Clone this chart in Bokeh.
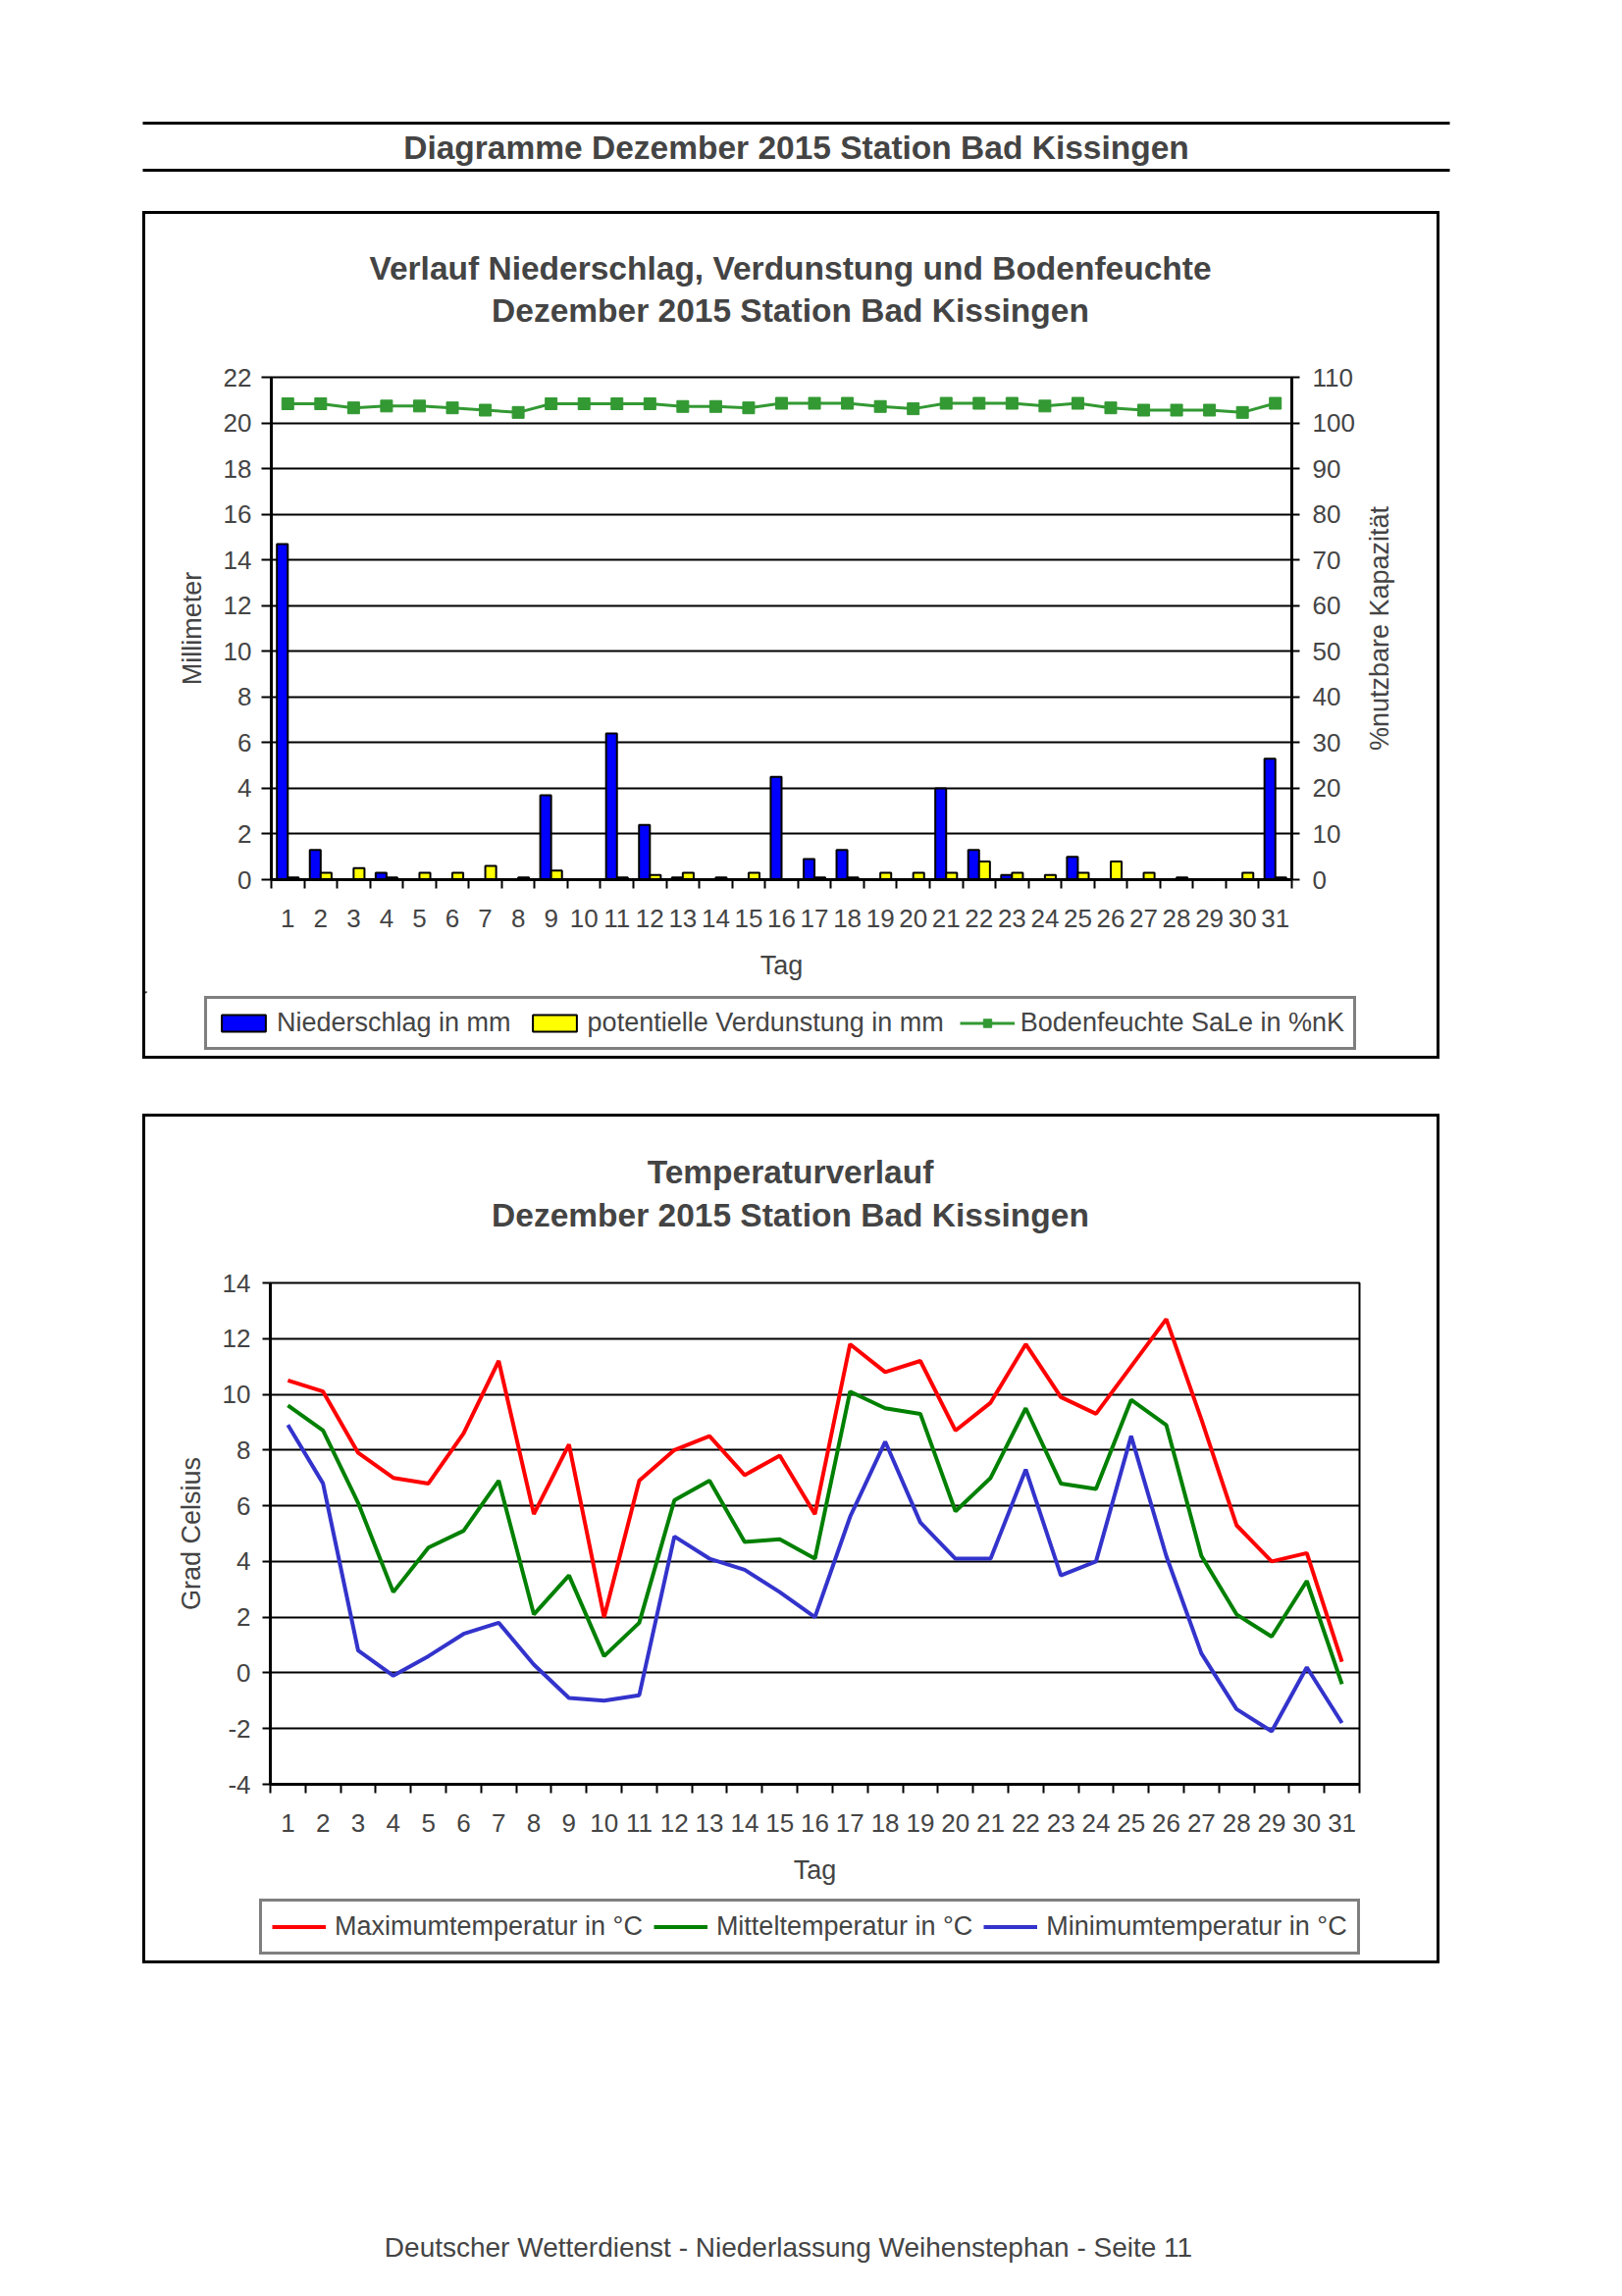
import math
from bokeh.plotting import figure
from bokeh.models import (Range1d, LinearAxis, FixedTicker, Label, Legend, LegendItem,
                          ColumnDataSource)
from bokeh.embed import file_html
from bokeh.resources import INLINE
from bokeh.transform import dodge

# ---------------- data ----------------
days = list(range(1, 32))
niederschlag = [14.7, 1.3, 0, 0.3, 0, 0, 0, 0, 3.7, 0, 6.4, 2.4, 0.1, 0, 0, 4.5,
                0.9, 1.3, 0, 0, 4.0, 1.3, 0.2, 0, 1.0, 0, 0, 0, 0, 0, 5.3]
verdunstung = [0.1, 0.3, 0.5, 0.1, 0.3, 0.3, 0.6, 0.1, 0.4, 0, 0.1, 0.2, 0.3, 0.1, 0.3, 0,
               0.1, 0.1, 0.3, 0.3, 0.3, 0.8, 0.3, 0.2, 0.3, 0.8, 0.3, 0.1, 0, 0.3, 0.1]
bodenfeuchte = [104.2, 104.2, 103.3, 103.7, 103.7, 103.3, 102.8, 102.3, 104.2, 104.2, 104.2,
                104.2, 103.6, 103.6, 103.3, 104.3, 104.3, 104.3, 103.6, 103.1, 104.3, 104.3,
                104.3, 103.7, 104.3, 103.3, 102.8, 102.8, 102.8, 102.3, 104.3]
tmax = [10.5, 10.1, 7.9, 7.0, 6.8, 8.6, 11.2, 5.7, 8.2, 2.0, 6.9, 8.0, 8.5, 7.1, 7.8, 5.7,
        11.8, 10.8, 11.2, 8.7, 9.7, 11.8, 9.9, 9.3, 11.0, 12.7, 9.1, 5.3, 4.0, 4.3, 0.4]
tmit = [9.6, 8.7, 6.1, 2.9, 4.5, 5.1, 6.9, 2.1, 3.5, 0.6, 1.8, 6.2, 6.9, 4.7, 4.8, 4.1,
        10.1, 9.5, 9.3, 5.8, 7.0, 9.5, 6.8, 6.6, 9.8, 8.9, 4.2, 2.1, 1.3, 3.3, -0.4]
tmin = [8.9, 6.8, 0.8, -0.1, 0.6, 1.4, 1.8, 0.3, -0.9, -1.0, -0.8, 4.9, 4.1, 3.7, 2.9, 2.0,
        5.6, 8.3, 5.4, 4.1, 4.1, 7.3, 3.5, 4.0, 8.5, 4.2, 0.7, -1.3, -2.1, 0.2, -1.8]
mm_ticks = list(range(0, 23, 2))
pct_ticks = list(range(0, 111, 10))
temp_ticks = list(range(-4, 15, 2))

page_title = "Diagramme Dezember 2015 Station Bad Kissingen"
title1 = ["Verlauf Niederschlag, Verdunstung und Bodenfeuchte", "Dezember 2015 Station Bad Kissingen"]
title2 = ["Temperaturverlauf", "Dezember 2015 Station Bad Kissingen"]
legend1_labels = ["Niederschlag in mm", "potentielle Verdunstung in mm", "Bodenfeuchte SaLe in %nK"]
legend2_labels = ["Maximumtemperatur in °C", "Mitteltemperatur in °C", "Minimumtemperatur in °C"]
right_label = "%nutzbare Kapazität"
footer = "Deutscher Wetterdienst - Niederlassung Weihenstephan - Seite 11"

FONT = "Liberation Sans"
BLUE_BAR = "#0000FF"
YELLOW_BAR = "#FFFF00"
GREEN_BF = "#339933"
RED_T, GREEN_T, BLUE_T = "#FF0000", "#008000", "#3333CC"
TICK_FS = "26px"
LAB_FS = "27px"
TITLE_FS = "33.5px"
BORDER = "3px solid black"
PAGE_W = 1645
BOX_L = 145
BOX_W = 1322
BOX_R = PAGE_W - BOX_L - BOX_W
AX_B = 114          # space under plot frame for tick labels + "Tag"
LEG_H = 183 - AX_B  # remaining box part holding the legend

src = ColumnDataSource(dict(day=days, nied=niederschlag, verd=verdunstung, bf=bodenfeuchte,
                            tmax=tmax, tmit=tmit, tmin=tmin))


def blank(width, height):
    f = figure(width=width, height=height, x_range=Range1d(0, width), y_range=Range1d(height, 0),
               output_backend="svg", toolbar_location=None, x_axis_location=None,
               y_axis_location=None, min_border=0, outline_line_color=None)
    f.xgrid.visible = False
    f.ygrid.visible = False
    return f


def text(f, x, y, t, size, bold, angle=0.0):
    f.add_layout(Label(x=x, y=y, text=t, text_font=FONT, text_font_size=size,
                       text_font_style="bold" if bold else "normal", angle=angle,
                       text_align="center", text_baseline="middle"))


def style_x(p):
    ax = p.xaxis[0]
    ax.ticker = FixedTicker(ticks=days, minor_ticks=[d - 0.5 for d in days] + [days[-1] + 0.5])
    ax.major_tick_line_color = None
    ax.major_tick_out = 0
    ax.major_tick_in = 0
    ax.minor_tick_line_color = "black"
    ax.minor_tick_line_width = 2
    ax.minor_tick_out = 9
    ax.minor_tick_in = 0
    ax.axis_line_width = 3
    ax.major_label_standoff = 21
    ax.major_label_text_font = FONT
    ax.major_label_text_font_size = TICK_FS
    ax.axis_label = "Tag"
    ax.axis_label_standoff = 21
    ax.axis_label_text_font = FONT
    ax.axis_label_text_font_size = LAB_FS
    ax.axis_label_text_font_style = "normal"


def style_y(ax, ticks, label, tick_out, standoff, lstandoff):
    ax.ticker = FixedTicker(ticks=ticks)
    ax.major_tick_out = tick_out
    ax.major_tick_in = 0
    ax.major_tick_line_width = 2
    ax.minor_tick_line_color = None
    ax.axis_line_width = 3
    ax.major_label_standoff = standoff
    ax.major_label_text_font = FONT
    ax.major_label_text_font_size = TICK_FS
    ax.major_label_overrides = {t: str(t) for t in ticks}
    if label:
        ax.axis_label = label
        ax.axis_label_standoff = lstandoff
        ax.axis_label_text_font = FONT
        ax.axis_label_text_font_size = LAB_FS
        ax.axis_label_text_font_style = "normal"


def title_box(lines, height, y1, y2, top_margin):
    t = blank(BOX_W, height)
    text(t, 657, y1, lines[0], TITLE_FS, True)
    text(t, 657, y2, lines[1], TITLE_FS, True)
    t.styles = {"border-top": BORDER, "border-left": BORDER, "border-right": BORDER}
    t.margin = (top_margin, BOX_R, 0, BOX_L)
    return t


def legend_box(items, left, top, **kw):
    # legend-only strip; its swatch renderers hold one point placed off the visible area
    lf = blank(BOX_W, LEG_H)
    off = [-1000]
    leg_items = []
    for label, kind, color in items:
        if kind == "bar":
            rr = [lf.vbar(x=off, top=[1], bottom=[0], width=1, fill_color=color,
                          line_color="black", line_width=2)]
        elif kind == "line+square":
            rr = [lf.line(x=off + off, y=[0, 1], line_color=color, line_width=3),
                  lf.scatter(x=off, y=[0], marker="square", size=12, fill_color=color,
                             line_color=color)]
        else:
            rr = [lf.line(x=off + off, y=[0, 1], line_color=color, line_width=4)]
        leg_items.append(LegendItem(label=label, renderers=rr))
    leg = Legend(items=leg_items, orientation="horizontal", location=(left, LEG_H - top - 53),
                 border_line_color="black", border_line_width=3, glyph_height=21, label_height=21,
                 label_text_font=FONT, label_text_font_size=LAB_FS, margin=0, **kw)
    lf.add_layout(leg)
    lf.styles = {"border-bottom": BORDER, "border-left": BORDER, "border-right": BORDER}
    lf.margin = (0, BOX_R, 0, BOX_L)
    return lf


def chart_fig(y_range, height, left, right):
    p = figure(width=BOX_W, height=height, x_range=Range1d(0.5, 31.5), y_range=y_range,
               output_backend="svg", toolbar_location=None,
               min_border_left=left, min_border_right=right, min_border_top=20,
               min_border_bottom=AX_B, outline_line_color="black", outline_line_width=2)
    p.xgrid.visible = False
    p.ygrid.grid_line_color = "black"
    p.ygrid.grid_line_width = 2
    p.styles = {"border-left": BORDER, "border-right": BORDER}
    p.margin = (0, BOX_R, 0, BOX_L)
    style_x(p)
    return p


# ---------------- header ----------------
head = blank(PAGE_W, 207)
head.segment(x0=[145, 145], x1=[1477, 1477], y0=[125, 173], y1=[125, 173],
             line_color="black", line_width=3)
text(head, 811, 150, page_title, TITLE_FS, True)

# ---------------- chart 1 ----------------
t1 = title_box(title1, 149, 55, 98, 8)
p1 = chart_fig(Range1d(0, 22), 20 + 512 + AX_B, 128, 154)
p1.extra_y_ranges = {"bf": Range1d(0, 110)}
style_y(p1.yaxis[0], mm_ticks, "Millimeter", 10, 10, 14)
rax = LinearAxis(y_range_name="bf")
style_y(rax, pct_ticks, None, 8, 13, 0)
p1.add_layout(rax, "right")

p1.vbar(x=dodge("day", -0.165), top="nied", bottom=0, width=0.33, source=src,
        fill_color=BLUE_BAR, line_color="black", line_width=2)
p1.vbar(x=dodge("day", 0.165), top="verd", bottom=0, width=0.33, source=src,
        fill_color=YELLOW_BAR, line_color="black", line_width=2)
p1.line("day", "bf", y_range_name="bf", source=src, line_color=GREEN_BF, line_width=3)
p1.scatter("day", "bf", y_range_name="bf", source=src, marker="square", size=12,
           fill_color=GREEN_BF, line_color=GREEN_BF)
l1 = legend_box(list(zip(legend1_labels, ["bar", "bar", "line+square"],
                         [BLUE_BAR, YELLOW_BAR, GREEN_BF])),
                left=60, top=121 - AX_B, padding=9, spacing=16, label_standoff=6, glyph_width=56)

# right axis title (reads bottom-to-top, centred on the plot height)
rlab = blank(44, 280)
rlab.background_fill_alpha = 0
rlab.border_fill_alpha = 0
text(rlab, 22, 140, right_label, LAB_FS, False, angle=math.pi / 2)
rlab.styles = {"position": "absolute", "left": "1383px", "top": "500px"}

# ---------------- chart 2 ----------------
t2 = title_box(title2, 152, 56, 100, 56)
p2 = chart_fig(Range1d(-4, 14), 20 + 511 + AX_B, 127, 85)
style_y(p2.yaxis[0], temp_ticks, "Grad Celsius", 8, 12, 14)
p2.line("day", "tmax", source=src, line_color=RED_T, line_width=4)
p2.line("day", "tmit", source=src, line_color=GREEN_T, line_width=4)
p2.line("day", "tmin", source=src, line_color=BLUE_T, line_width=4)
l2 = legend_box(list(zip(legend2_labels, ["line"] * 3, [RED_T, GREEN_T, BLUE_T])),
                left=116, top=121 - AX_B, padding=10, spacing=11, label_standoff=9, glyph_width=55)

# ---------------- footer ----------------
foot = blank(PAGE_W, 330)
text(foot, 803, 289, footer, "28px", False)

roots = [head, t1, p1, l1, t2, p2, l2, foot, rlab]
open("out.html", "w").write(file_html(roots, INLINE))
